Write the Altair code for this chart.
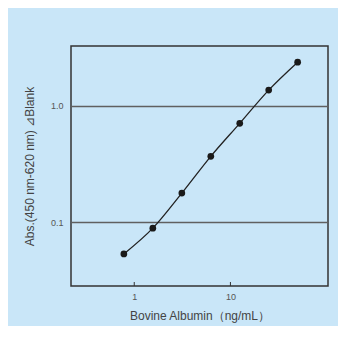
import altair as alt
import pandas as pd

conc = [0.78, 1.56, 3.125, 6.25, 12.5, 25, 50]
absv = [0.0535, 0.089, 0.178, 0.368, 0.706, 1.36, 2.36]
x_ticks = [1, 10]
y_ticks = [0.1, 1.0]

df = pd.DataFrame({"conc": conc, "abs": absv})
tick_df = pd.DataFrame({"t": x_ticks})

W, H = 257, 240
FONT = "Liberation Sans"

xscale = alt.Scale(type="log", domain=[0.22, 103.4], nice=False)
yscale = alt.Scale(type="log", domain=[0.0284, 3.25], nice=False)

xaxis = alt.Axis(values=x_ticks, format="d", grid=False, ticks=False, domain=False,
                 labelFontSize=9, labelColor="#555", labelPadding=6, labelFont=FONT,
                 title="Bovine Albumin（ng/mL）", titleFontSize=12, titleFontWeight="normal",
                 titleColor="#444", titleFont=FONT, titlePadding=9)
yaxis = alt.Axis(values=y_ticks, format=".1f", grid=True, gridColor="#606060", gridWidth=1.5,
                 ticks=False, domain=False, labelFontSize=9, labelColor="#555",
                 labelPadding=8, labelFont=FONT,
                 title="Abs.(450 nm-620 nm) ⊿Blank", titleFontSize=12, titleFontWeight="normal",
                 titleColor="#444", titleFont=FONT, titlePadding=14)

base = alt.Chart(df)
line = base.mark_line(interpolate="monotone", color="#222", strokeWidth=1.3).encode(
    x=alt.X("conc:Q", scale=xscale, axis=xaxis),
    y=alt.Y("abs:Q", scale=yscale, axis=yaxis),
)
pts = base.mark_circle(size=45, color="#1a1a1a", opacity=1).encode(
    x=alt.X("conc:Q", scale=xscale),
    y=alt.Y("abs:Q", scale=yscale),
)
ticks = alt.Chart(tick_df).mark_rule(color="#333", strokeWidth=1).encode(
    x=alt.X("t:Q", scale=xscale),
    y=alt.value(H),
    y2=alt.value(H - 4),
)

chart = alt.layer(line, ticks, pts).properties(
    width=W, height=H,
    background="#c9e6f8",
    autosize=alt.AutoSizeParams(type="none"),
    padding={"left": 63, "top": 38, "right": 10, "bottom": 40},
).configure_view(stroke="#333", strokeWidth=1.5)

chart.save("out.html", embed_options={"renderer": "svg", "actions": False})
